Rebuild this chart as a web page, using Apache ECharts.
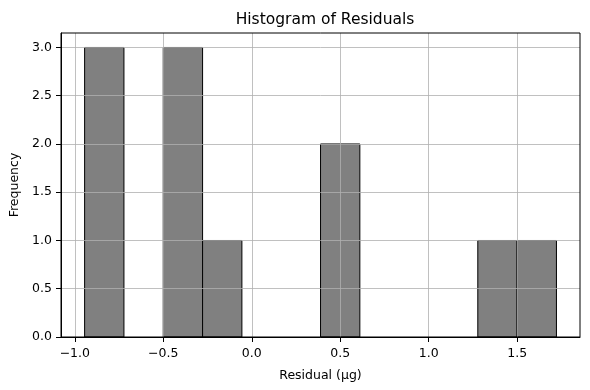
<!DOCTYPE html>
<html>
<head>
<meta charset="utf-8">
<script src="https://cdn.jsdelivr.net/npm/echarts@6/dist/echarts.min.js"></script>
<style>html,body{margin:0;padding:0;background:#fff;}#c{width:590px;height:390px;}</style>
</head>
<body>
<div id="c"></div>
<script>
// Histogram bins (left edges) and counts
var binWidth = 0.2222;
var binLefts = [-0.9445, -0.7223, -0.5001, -0.2779, -0.0557, 0.1665, 0.3887, 0.6109, 0.8331, 1.0553, 1.2775, 1.4997];
var counts = [3, 0, 3, 1, 0, 0, 2, 0, 0, 0, 1, 1];
var xTicks = [-1.0, -0.5, 0.0, 0.5, 1.0, 1.5];
var yTicks = [0.0, 0.5, 1.0, 1.5, 2.0, 2.5, 3.0];

var data = binLefts.map(function (l, i) { return [l, l + binWidth, counts[i]]; });
var font = 'DejaVu Sans';
function fmt(v) {
  var s = v.toFixed(1);
  return s.replace('-', '\u2212');
}
var chart = echarts.init(document.getElementById('c'), null, {renderer: 'canvas'});
chart.setOption({
  animation: false,
  backgroundColor: '#fff',
  title: {
    text: 'Histogram of Residuals',
    left: 320, top: 7, textAlign: 'center',
    textStyle: {fontFamily: font, fontSize: 15.5, fontWeight: 'normal', color: '#000'}
  },
  grid: {left: 61, right: 10, top: 33, bottom: 53, show: true, borderColor: '#000', borderWidth: 1, z: 10},
  xAxis: {
    type: 'value', min: -1.078, max: 1.855, interval: 0.5,
    z: 5,
    name: 'Residual (\u03bcg)', nameLocation: 'middle', nameGap: 32,
    nameTextStyle: {fontFamily: font, fontSize: 12.5, color: '#000'},
    axisLine: {show: true, onZero: false, lineStyle: {color: '#000', width: 1}},
    axisTick: {show: true, inside: false, length: 5, lineStyle: {color: '#000'},
      customValues: xTicks},
    axisLabel: {fontFamily: font, fontSize: 12.5, color: '#000', margin: 10,
      customValues: xTicks, formatter: function (v) { return fmt(v); }},
    splitLine: {show: true, lineStyle: {color: '#b0b0b0', width: 0.8}}
  },
  yAxis: {
    type: 'value', min: 0, max: 3.15,
    z: 5,
    name: 'Frequency', nameLocation: 'middle', nameGap: 37,
    nameTextStyle: {fontFamily: font, fontSize: 12.5, color: '#000'},
    axisLine: {show: true, onZero: false, lineStyle: {color: '#000', width: 1}},
    axisTick: {show: true, inside: false, length: 5, lineStyle: {color: '#000'},
      customValues: yTicks},
    axisLabel: {fontFamily: font, fontSize: 12.5, color: '#000', margin: 9,
      customValues: yTicks, formatter: function (v) { return v.toFixed(1); }},
    splitLine: {show: true, lineStyle: {color: '#b0b0b0', width: 0.8}}
  },
  series: [{
    type: 'custom',
    z: 2,
    data: data,
    renderItem: function (params, api) {
      var h = api.value(2);
      if (!h) return null;
      var p0 = api.coord([api.value(0), h]);
      var p1 = api.coord([api.value(1), 0]);
      return {
        type: 'rect',
        shape: {x: p0[0], y: p0[1], width: p1[0] - p0[0], height: p1[1] - p0[1]},
        style: {fill: '#808080', stroke: '#000', lineWidth: 1}
      };
    }
  }]
});
</script>
</body>
</html>
